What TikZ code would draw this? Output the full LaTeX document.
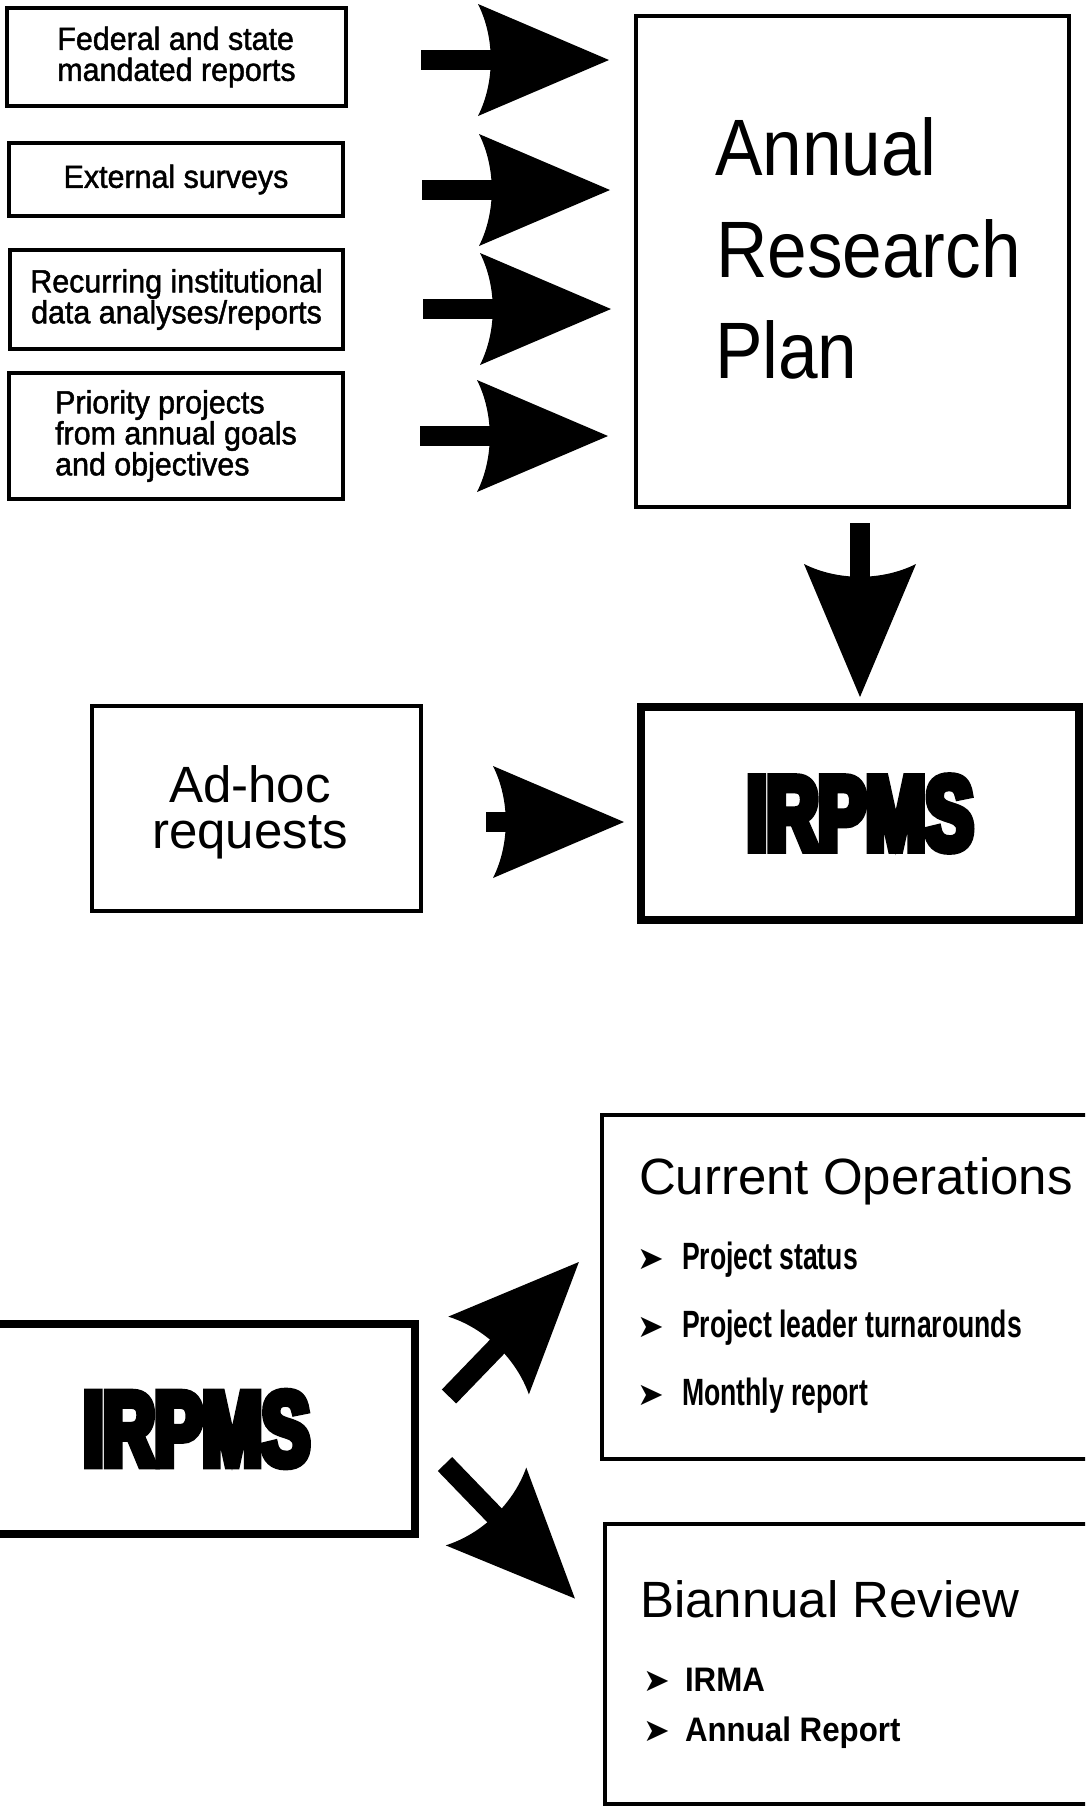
\documentclass[tikz,border=0pt]{standalone}
\usepackage{fontspec}
\setmainfont{Liberation Sans}
\newfontfamily\heavyfam{Liberation Sans}[FakeStretch=0.68, BoldFeatures={FakeBold=8}]
\newfontfamily\narrowfam{Liberation Sans}[FakeStretch=0.70]
\newfontfamily\semifam{Liberation Sans}[FakeStretch=0.95, FakeBold=1.5]
\newfontfamily\tallfam{Liberation Sans}[FakeStretch=0.89]
\newfontfamily\midfam{Liberation Sans}[FakeStretch=0.92]
\newfontfamily\dingfont{DejaVu Sans}
\usetikzlibrary{calc}
\tikzset{
  pics/fatarrow/.style n args={2}{code={
     \fill[black] (0,-10) rectangle ({#1-#2+15},10);
     \fill[black] ({#1-#2},-56) -- (#1,0) -- ({#1-#2},56)
        .. controls ({#1-#2+17},22) and ({#1-#2+17},-22) .. cycle;
  }},
  box/.style={draw=black, line width=4pt, inner sep=0pt, outer sep=0pt, align=center},
  thickbox/.style={draw=black, line width=8pt, inner sep=0pt, outer sep=0pt, align=center},
  smalltxt/.style={font=\semifam\fontsize{32}{31}\selectfont},
  linetxt/.style={anchor=base west, inner sep=0pt, outer sep=0pt},
  bigtxt/.style={font=\tallfam\fontsize{80}{80}\selectfont},
  heavytxt/.style={font=\heavyfam\bfseries\fontsize{105}{105}\selectfont},
  titletxt/.style={font=\fontsize{51}{51}\selectfont},
  bullet/.style={font=\dingfont\fontsize{32}{32}\selectfont},
  narrowtxt/.style={font=\narrowfam\bfseries\fontsize{38}{38}\selectfont},
  boldtxt/.style={font=\midfam\bfseries\fontsize{34}{34}\selectfont}
}
\begin{document}
\begin{tikzpicture}[x=1pt,y=-1pt]
\useasboundingbox (0,0) rectangle (1085,1808);
\fill[white] (0,0) rectangle (1085,1808);
\clip (0,0) rectangle (1085,1808);

% top-left input boxes
\node[box, smalltxt, align=left, minimum width=339pt, minimum height=98pt] (b1) at (176.5,57) {Federal and state\\mandated reports};
\node[box, smalltxt, minimum width=334pt, minimum height=73pt] (b2) at (176,179.5) {External surveys};
\node[box, smalltxt, minimum width=333pt, minimum height=99pt] (b3) at (176.5,299.5) {Recurring institutional\\data analyses/reports};
\node[box, smalltxt, align=left, minimum width=334pt, minimum height=126pt] (b4) at (176,436) {Priority projects\\from annual goals\\and objectives};

% Annual Research Plan
\node[box, minimum width=433pt, minimum height=491pt] (arp) at (852.5,261.5) {};
\node[linetxt, bigtxt] (arp1) at (715,175) {Annual};
\node[linetxt, bigtxt] (arp2) at (716,277) {Research};
\node[linetxt, bigtxt] (arp3) at (715,378) {Plan};

% arrows into plan
\pic at ($(arp.west |- b1.east)+(-215,3)$) {fatarrow={188}{131}};
\pic at ($(arp.west |- b2.east)+(-214,10.5)$) {fatarrow={188}{131}};
\pic at ($(arp.west |- b3.east)+(-213,9.5)$) {fatarrow={188}{131}};
\pic at ($(arp.west |- b4.east)+(-216,0)$) {fatarrow={188}{131}};

% Ad-hoc and IRPMS
\node[box, minimum width=329pt, minimum height=205pt] (adhoc) at (256.5,808.5) {};
\node[font=\fontsize{51}{46}\selectfont, align=center, inner sep=0pt] (adhoct) at (250,812) {Ad-hoc\\requests};
\node[thickbox, heavytxt, minimum width=438pt, minimum height=213pt] (ir1) at (860,813.5) {IRPMS};
\pic[rotate=-90] at ($(arp.south)+(7.5,16)$) {fatarrow={174}{133}};
\pic at ($(adhoc.east)+(65,13.5)$) {fatarrow={138}{131}};

% bottom part
\node[thickbox, heavytxt, minimum width=437pt, minimum height=210pt] (ir2) at (196.5,1429) {IRPMS};

\node[box, minimum width=508pt, minimum height=344pt] (cur) at (856,1287) {};
\node[linetxt, titletxt] (curt) at (639,1194) {Current Operations};
\node[linetxt, bullet] (cb1) at (637,1269) {➤};
\node[linetxt, narrowtxt] (ct1) at (682,1269) {Project status};
\node[linetxt, bullet] (cb2) at (637,1337) {➤};
\node[linetxt, narrowtxt] (ct2) at (682,1337) {Project leader turnarounds};
\node[linetxt, bullet] (cb3) at (637,1405) {➤};
\node[linetxt, narrowtxt] (ct3) at (682,1405) {Monthly report};

\node[box, minimum width=505pt, minimum height=280pt] (bia) at (857.5,1664) {};
\node[linetxt, titletxt] (biat) at (640,1617) {Biannual Review};
\node[linetxt, bullet] (bb1) at (643,1691) {➤};
\node[linetxt, boldtxt] (bt1) at (685,1691) {IRMA};
\node[linetxt, bullet] (bb2) at (643,1741) {➤};
\node[linetxt, boldtxt] (bt2) at (685,1741) {Annual Report};

\pic[rotate=46] at ($(ir2.east)+(34,-32.5)$) {fatarrow={187}{130}};
\pic[rotate=-46] at ($(ir2.east)+(30,35)$) {fatarrow={187}{128}};
\end{tikzpicture}
\end{document}
